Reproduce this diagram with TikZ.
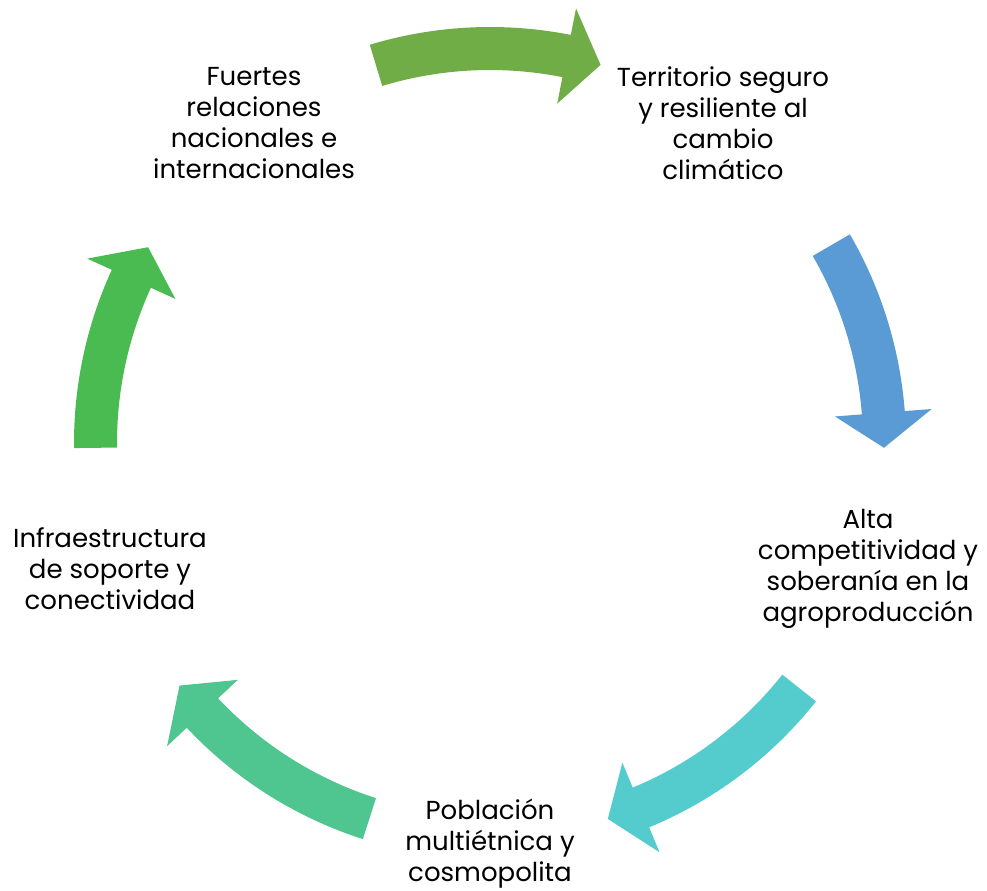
\documentclass[tikz,border=0pt]{standalone}
\usepackage{fontspec}
\setmainfont{Poppins}
\definecolor{arrowA}{RGB}{112,173,71}
\definecolor{arrowB}{RGB}{91,155,213}
\definecolor{arrowC}{RGB}{84,204,205}
\definecolor{arrowD}{RGB}{79,198,143}
\definecolor{arrowE}{RGB}{74,187,80}
\tikzset{every picture/.style={line width=0.75pt}}
\tikzset{cycletext/.style={align=center, inner sep=0pt, font=\fontsize{18.5}{22}\selectfont}}
% curved block arrow: colour, start angle, head base angle, tip angle
\newcommand{\cyclearrow}[4]{%
  \fill[#1] (#2:416) arc[start angle=#2, end angle=#3, radius=416]
    -- (#3:443) -- (#4:394) -- (#3:346) -- (#3:373)
    arc[start angle=#3, end angle=#2, radius=373] -- cycle;}

\begin{document}
\begin{tikzpicture}[x=0.025cm, y=0.025cm]
        \useasboundingbox (0,0) rectangle (987,890);
        \begin{scope}[shift={(490,447)}]
            \cyclearrow{arrowA}{106.8}{78.8}{73.7}
            \cyclearrow{arrowB}{30.1}{4.4}{-0.7}
            \cyclearrow{arrowC}{-38.4}{-67.5}{-72.6}
            \cyclearrow{arrowD}{252.2}{223.2}{218.0}
            \cyclearrow{arrowE}{180.7}{155.4}{150.2}
        \end{scope}
        \node[cycletext] (relaciones) at (254,767) {Fuertes\\relaciones\\nacionales e\\internacionales};
        \node[cycletext] (territorio) at (723,767) {Territorio seguro\\y resiliente al\\cambio\\climático};
        \node[cycletext] (agro) at (868,321) {Alta\\competitividad y\\soberanía en la\\agroproducción};
        \node[cycletext] (poblacion) at (490,46) {Población\\multiétnica y\\cosmopolita};
        \node[cycletext] (infra) at (110,321) {Infraestructura\\de soporte y\\conectividad};
    \end{tikzpicture}
\end{document}
